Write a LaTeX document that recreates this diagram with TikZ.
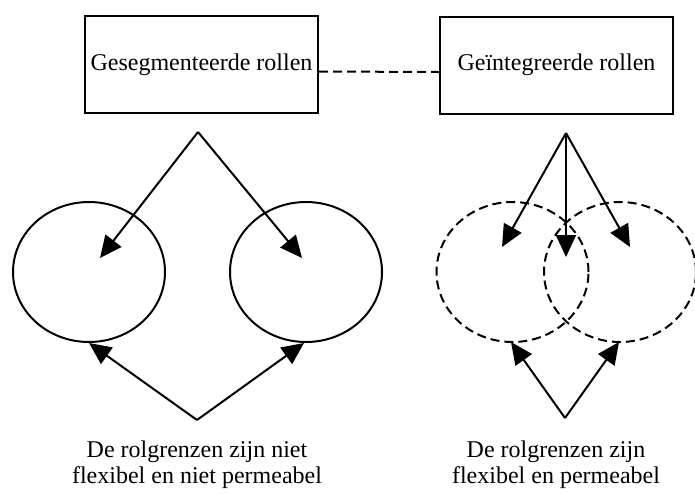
\documentclass[tikz,border=0pt]{standalone}
\usepackage{fontspec}
\setmainfont{Liberation Serif}
\usetikzlibrary{positioning}
\usetikzlibrary{shapes.geometric}
\usetikzlibrary{arrows.meta}

\begin{document}
\begin{tikzpicture}[x=0.5pt,y=-0.5pt]

          \tikzstyle{boxNode} = [draw, line width=1pt, minimum width=116.5pt, minimum height=48.5pt, inner sep=0pt, font=\fontsize{12}{13}\selectfont];
          \tikzstyle{ringNode} = [draw, ellipse, line width=1pt, minimum width=76pt, minimum height=70pt, inner sep=0pt];
          \tikzstyle{dashRingNode} = [ringNode, dash pattern=on 4.5pt off 2.5pt];
          \tikzstyle{textNode} = [align=center, font=\fontsize{12}{13}\selectfont];

          \tikzstyle{linkEdge} = [line width=1pt, dash pattern=on 4.5pt off 2.5pt];
          \tikzstyle{arrowEdge} = [line width=1pt, -{Triangle[length=11pt,width=10pt]}];

          \useasboundingbox (0,0) rectangle (695,493);

          \node[boxNode] (seg) at (201.5,64.5) {Gesegmenteerde rollen};
          \node[boxNode] (int) at (556.5,65) {Geïntegreerde rollen};

          \node[ringNode] (segA) at (89,272) {};
          \node[ringNode] (segB) at (306,272) {};
          \node[dashRingNode] (intA) at (512.5,272) {};
          \node[dashRingNode] (intB) at (620,272) {};

          \node[textNode] (segText) at (197,465) {De rolgrenzen zijn niet\\flexibel en niet permeabel};
          \node[textNode] (intText) at (556,465) {De rolgrenzen zijn\\flexibel en permeabel};

          \coordinate (segTop) at (198,132);
          \coordinate (segTopA) at (100,258);
          \coordinate (segTopB) at (302,258);
          \coordinate (segBot) at (197,420);
          \coordinate (segBotA) at (89,343);
          \coordinate (segBotB) at (304,343);

          \coordinate (intTop) at (566,133);
          \coordinate (intTopA) at (502,247);
          \coordinate (intTopM) at (566,257);
          \coordinate (intTopB) at (630,247);
          \coordinate (intBot) at (565,418);
          \coordinate (intBotA) at (511,342);
          \coordinate (intBotB) at (619,342);

          \draw[linkEdge] ([yshift=-3.5pt]seg.east) -- ([yshift=-3.5pt]int.west);

          \draw[arrowEdge] (segTop) -- (segTopA);
          \draw[arrowEdge] (segTop) -- (segTopB);
          \draw[arrowEdge] (segBot) -- (segBotA);
          \draw[arrowEdge] (segBot) -- (segBotB);

          \draw[arrowEdge] (intTop) -- (intTopA);
          \draw[arrowEdge] (intTop) -- (intTopM);
          \draw[arrowEdge] (intTop) -- (intTopB);
          \draw[arrowEdge] (intBot) -- (intBotA);
          \draw[arrowEdge] (intBot) -- (intBotB);
        \end{tikzpicture}
\end{document}
